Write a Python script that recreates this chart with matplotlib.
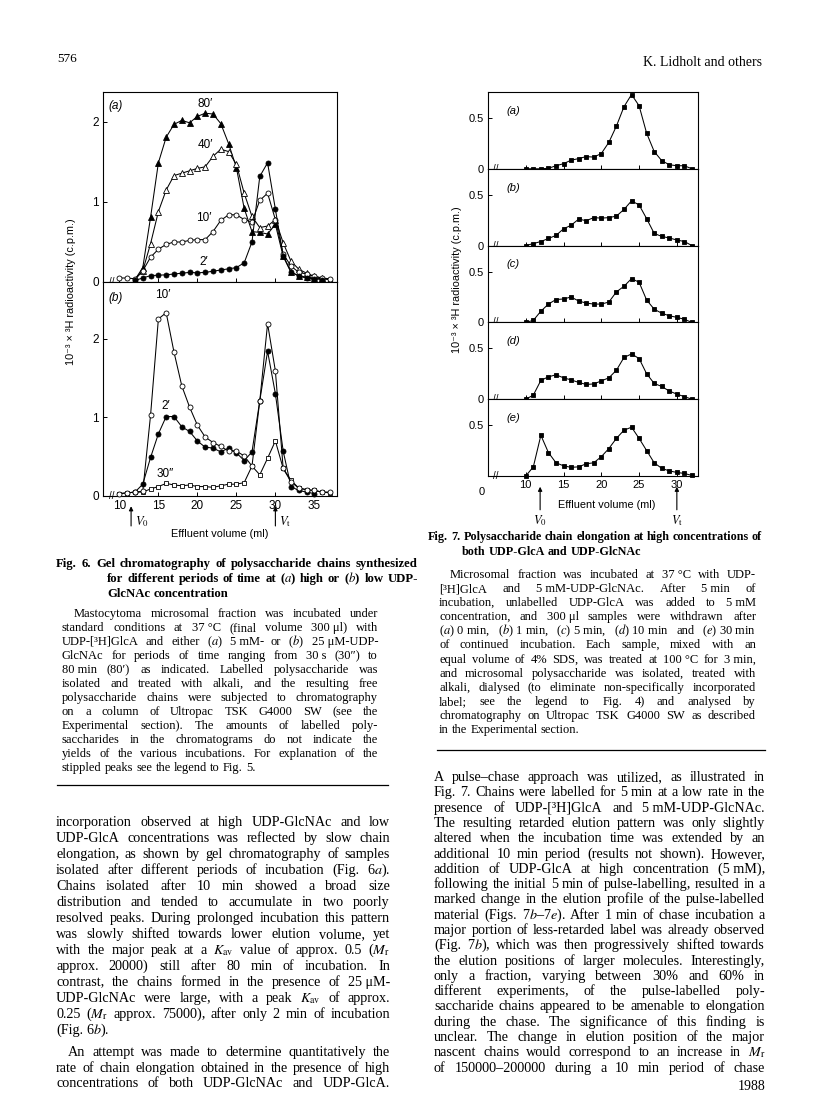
import matplotlib.pyplot as plt
from matplotlib.lines import Line2D

plt.rcParams['font.family'] = ['Liberation Sans', 'DejaVu Sans']
plt.rcParams['mathtext.fontset'] = 'stix'
SERIF = ['Liberation Serif', 'DejaVu Serif']

W, H = 816, 1097

# ---------------- Fig. 6 data (ml vs 10^-3 x 3H c.p.m.) ----------------
ml_a80 = list(range(12, 38))
a_80 = [0.03, 0.18, 0.81, 1.49, 1.81, 1.97, 2.02, 1.99, 2.07, 2.11, 2.10, 1.98, 1.73,
        1.43, 0.92, 0.63, 0.62, 0.60, 0.72, 0.32, 0.12, 0.08, 0.06, 0.05, 0.04, 0.03]
ml_a40 = list(range(12, 38))
a_40 = [0.03, 0.14, 0.48, 0.88, 1.15, 1.33, 1.36, 1.39, 1.42, 1.44, 1.57, 1.66, 1.63,
        1.47, 1.11, 0.82, 0.68, 0.70, 0.78, 0.49, 0.26, 0.16, 0.11, 0.07, 0.05, 0.03]
ml_a10 = list(range(10, 38))
a_10 = [0.05, 0.05, 0.04, 0.14, 0.31, 0.41, 0.47, 0.50, 0.50, 0.52, 0.53, 0.53, 0.63, 0.77,
        0.84, 0.84, 0.78, 0.75, 1.02, 1.11, 0.78, 0.35, 0.20, 0.12, 0.10, 0.07, 0.05, 0.04]
ml_a2 = list(range(12, 37))
a_2 = [0.02, 0.05, 0.08, 0.085, 0.09, 0.10, 0.11, 0.12, 0.115, 0.12, 0.135, 0.15, 0.165,
       0.18, 0.24, 0.50, 1.32, 1.49, 0.91, 0.33, 0.13, 0.07, 0.05, 0.04, 0.03]

ml_b10 = list(range(10, 38))
b_10 = [0.03, 0.04, 0.05, 0.06, 1.03, 2.25, 2.33, 1.83, 1.40, 1.13, 0.90, 0.75, 0.68, 0.63,
        0.57, 0.57, 0.51, 0.38, 1.21, 2.19, 1.59, 0.35, 0.18, 0.10, 0.08, 0.07, 0.05, 0.05]
ml_b2 = list(range(12, 36))
b_2 = [0.05, 0.15, 0.49, 0.79, 1.01, 1.01, 0.88, 0.82, 0.70, 0.62, 0.61, 0.56, 0.61, 0.55,
       0.45, 0.56, 1.21, 1.84, 1.30, 0.57, 0.12, 0.07, 0.05, 0.03]
ml_b30s = list(range(10, 38))
b_30s = [0.03, 0.04, 0.05, 0.05, 0.09, 0.12, 0.16, 0.14, 0.13, 0.14, 0.12, 0.12, 0.11, 0.13,
         0.15, 0.15, 0.17, 0.38, 0.27, 0.48, 0.70, 0.35, 0.20, 0.10, 0.08, 0.07, 0.05, 0.04]

V0_6, Vt_6 = 11.5, 30

# ---------------- Fig. 7 data ----------------
ml7 = list(range(10, 33))
f7 = {
    'a': [0, 0, 0, 0.005, 0.03, 0.05, 0.085, 0.10, 0.12, 0.115, 0.15, 0.26, 0.42, 0.61,
          0.73, 0.62, 0.35, 0.17, 0.08, 0.04, 0.03, 0.03, 0],
    'b': [0, 0.02, 0.04, 0.07, 0.10, 0.165, 0.20, 0.26, 0.245, 0.275, 0.27, 0.275, 0.29,
          0.355, 0.44, 0.40, 0.265, 0.12, 0.09, 0.075, 0.055, 0.04, 0],
    'c': [0, 0.02, 0.11, 0.18, 0.225, 0.23, 0.25, 0.21, 0.19, 0.18, 0.18, 0.20, 0.30,
          0.355, 0.43, 0.395, 0.22, 0.13, 0.09, 0.065, 0.05, 0.03, 0],
    'd': [0, 0.04, 0.185, 0.22, 0.24, 0.21, 0.19, 0.165, 0.145, 0.15, 0.18, 0.21, 0.285,
          0.41, 0.445, 0.40, 0.25, 0.155, 0.125, 0.08, 0.05, 0.025, 0],
    'e': [0, 0.09, 0.40, 0.23, 0.13, 0.10, 0.085, 0.09, 0.12, 0.13, 0.19, 0.27, 0.37,
          0.45, 0.48, 0.37, 0.25, 0.13, 0.075, 0.05, 0.035, 0.025, 0.005],
}
V0_7, Vt_7 = 11.9, 30

# ---------------- text ----------------
cap6_title = ["Fig. 6. Gel chromatography of polysaccharide chains synthesized",
              "for different periods of time at ($a$) high or ($b$) low UDP-",
              "GlcNAc concentration"]
cap6_body = ["Mastocytoma microsomal fraction was incubated under",
             "standard conditions at 37~°C (final volume 300~μl) with",
             "UDP-[³H]GlcA and either ($a$) 5~mM- or ($b$) 25~μM-UDP-",
             "GlcNAc for periods of time ranging from 30~s (30″) to",
             "80~min (80′) as indicated. Labelled polysaccharide was",
             "isolated and treated with alkali, and the resulting free",
             "polysaccharide chains were subjected to chromatography",
             "on a column of Ultropac TSK G4000 SW (see the",
             "Experimental section). The amounts of labelled poly-",
             "saccharides in the chromatograms do not indicate the",
             "yields of the various incubations. For explanation of the",
             "stippled peaks see the legend to Fig. 5."]
left_p1 = ["incorporation observed at high UDP-GlcNAc and low",
           "UDP-GlcA concentrations was reflected by slow chain",
           "elongation, as shown by gel chromatography of samples",
           "isolated after different periods of incubation (Fig. 6$a$).",
           "Chains isolated after 10 min showed a broad size",
           "distribution and tended to accumulate in two poorly",
           "resolved peaks. During prolonged incubation this pattern",
           "was slowly shifted towards lower elution volume, yet",
           "with the major peak at a $K_\\mathrm{av}$ value of approx. 0.5 ($M_\\mathrm{r}$",
           "approx. 20000) still after 80 min of incubation. In",
           "contrast, the chains formed in the presence of 25~μM-",
           "UDP-GlcNAc were large, with a peak $K_\\mathrm{av}$ of approx.",
           "0.25 ($M_\\mathrm{r}$ approx. 75000), after only 2 min of incubation",
           "(Fig. 6$b$)."]
left_p2 = ["An attempt was made to determine quantitatively the",
           "rate of chain elongation obtained in the presence of high",
           "concentrations of both UDP-GlcNAc and UDP-GlcA."]
cap7_title = ["Fig. 7. Polysaccharide chain elongation at high concentrations of",
              "both UDP-GlcA and UDP-GlcNAc"]
cap7_body = ["Microsomal fraction was incubated at 37~°C with UDP-",
             "[³H]GlcA and 5~mM-UDP-GlcNAc. After 5~min of",
             "incubation, unlabelled UDP-GlcA was added to 5~mM",
             "concentration, and 300~μl samples were withdrawn after",
             "($a$)~0~min, ($b$)~1~min, ($c$)~5~min, ($d$)~10~min and ($e$)~30~min",
             "of continued incubation. Each sample, mixed with an",
             "equal volume of 4% SDS, was treated at 100~°C for 3~min,",
             "and microsomal polysaccharide was isolated, treated with",
             "alkali, dialysed (to eliminate non-specifically incorporated",
             "label; see the legend to Fig. 4) and analysed by",
             "chromatography on Ultropac TSK G4000 SW as described",
             "in the Experimental section."]
right_p = ["A pulse–chase approach was utilized, as illustrated in",
           "Fig. 7. Chains were labelled for 5 min at a low rate in the",
           "presence of UDP-[³H]GlcA and 5~mM-UDP-GlcNAc.",
           "The resulting retarded elution pattern was only slightly",
           "altered when the incubation time was extended by an",
           "additional 10 min period (results not shown). However,",
           "addition of UDP-GlcA at high concentration (5~mM),",
           "following the initial 5 min of pulse-labelling, resulted in a",
           "marked change in the elution profile of the pulse-labelled",
           "material (Figs. 7$b$–7$e$). After 1 min of chase incubation a",
           "major portion of less-retarded label was already observed",
           "(Fig. 7$b$), which was then progressively shifted towards",
           "the elution positions of larger molecules. Interestingly,",
           "only a fraction, varying between 30% and 60% in",
           "different experiments, of the pulse-labelled poly-",
           "saccharide chains appeared to be amenable to elongation",
           "during the chase. The significance of this finding is",
           "unclear. The change in elution position of the major",
           "nascent chains would correspond to an increase in $M_\\mathrm{r}$",
           "of 150000–200000 during a 10 min period of chase"]

fig = plt.figure(figsize=(W / 100, H / 100), dpi=100)
rend = fig.canvas.get_renderer()


def box(l, t, r, b):
    return [l / W, 1 - b / H, (r - l) / W, (b - t) / H]


def measure(s, **kw):
    t = fig.text(0, 0, s, **kw)
    w = t.get_window_extent(renderer=rend).width
    t.remove()
    return w


def block(lines, x0, x1, y0, dy, size, weight='normal', indent=0, last=True,
          hang=0):
    kw = dict(fontsize=size, family=SERIF, weight=weight)
    space = measure('a a', **kw) - measure('aa', **kw)
    for i, line in enumerate(lines):
        words = [w.replace('~', ' ') for w in line.split()]
        ws = [measure(w, **kw) for w in words]
        left = x0 + (indent if i == 0 else hang)
        y = round(y0 + i * dy)  # whole pixels keep baselines even
        if (last and i == len(lines) - 1) or len(words) == 1:
            gap = space
        else:
            gap = max((x1 - left - sum(ws)) / (len(words) - 1), 0.5 * space)
        x = left
        for w, wd in zip(words, ws):
            fig.text(x / W, 1 - y / H, w, va='baseline', ha='left', **kw)
            x += wd + gap


def rule(x0, x1, y):
    fig.add_artist(Line2D([x0 / W, x1 / W], [1 - y / H, 1 - y / H], lw=0.9, color='k'))


def series(ax, x, y, marker, filled, ms=3.6):
    ax.plot(x, y, '-', color='k', lw=0.75, marker=marker, ms=ms,
            mfc='k' if filled else 'white', mec='k', mew=0.6, clip_on=False, zorder=3)


# ---------------- Fig. 6 ----------------
ax6a = fig.add_axes(box(103, 92, 337, 282))
ax6b = fig.add_axes(box(103, 282, 337, 496))
series(ax6a, ml_a80, a_80, '^', True, 4.2)
series(ax6a, ml_a40, a_40, '^', False, 4.2)
series(ax6a, ml_a10, a_10, 'o', False)
series(ax6a, ml_a2, a_2, 'o', True)
series(ax6b, ml_b30s, b_30s, 's', False, 3.2)
series(ax6b, ml_b2, b_2, 'o', True)
series(ax6b, ml_b10, b_10, 'o', False)

for ax, top in ((ax6a, 2.375), (ax6b, 2.72)):
    ax.set_xlim(7.9, 37.9)
    ax.set_ylim(0, top)
    ax.set_xticks([10, 15, 20, 25, 30, 35])
    ax.set_yticks([0, 1, 2])
    ax.tick_params(direction='in', length=3, width=0.7, labelsize=8.5, pad=3)
    for s in ax.spines.values():
        s.set_linewidth(0.8)
    ax.text(9.0, 0, '//', fontsize=7, ha='center', va='center')
ax6a.tick_params(labelbottom=False)

ax6a.text(9.5, 2.2, '(a)', fontstyle='italic', fontsize=8.5, ha='center', va='center')
ax6a.text(21.0, 2.22, '80′', fontsize=8.5, ha='center', va='center')
ax6a.text(21.0, 1.71, '40′', fontsize=8.5, ha='center', va='center')
ax6a.text(20.8, 0.80, '10′', fontsize=8.5, ha='center', va='center')
ax6a.text(20.8, 0.25, '2′', fontsize=8.5, ha='center', va='center')
ax6b.text(9.5, 2.52, '(b)', fontstyle='italic', fontsize=8.5, ha='center', va='center')
ax6b.text(15.6, 2.55, '10′', fontsize=8.5, ha='center', va='center')
ax6b.text(15.9, 1.15, '2′', fontsize=8.5, ha='center', va='center')
ax6b.text(15.9, 0.28, '30″', fontsize=8.5, ha='center', va='center')

arrow = dict(arrowstyle='-|>', lw=0.8, color='k', mutation_scale=6, shrinkA=0, shrinkB=0)
for v, lab in ((V0_6, '$V_0$'), (Vt_6, '$V_\\mathrm{t}$')):
    ax6b.annotate('', xy=(v, -0.048), xytext=(v, -0.14), xycoords=('data', 'axes fraction'),
                  arrowprops=arrow)
    ax6b.text(v + 0.5, -0.12, lab, transform=ax6b.get_xaxis_transform(), fontsize=9,
              ha='left', va='center')

fig.text(220 / W, 1 - 534 / H, 'Effluent volume (ml)', fontsize=7.8, ha='center', va='center')
fig.text(71 / W, 1 - 292 / H, '10⁻³ × ³H radioactivity (c.p.m.)', fontsize=7.8,
         rotation=90, ha='center', va='center')

# ---------------- Fig. 7 ----------------
ph = (476 - 92) / 5
for i, k in enumerate('abcde'):
    ax = fig.add_axes(box(488, 92 + i * ph, 698, 92 + (i + 1) * ph))
    series(ax, ml7, f7[k], 's', True, 2.6)
    ax.set_xlim(5.0, 32.8)
    ax.set_ylim(0, 0.755)
    ax.set_xticks([10, 15, 20, 25, 30])
    ax.set_yticks([0, 0.5])
    ax.set_yticklabels(['0' if k != 'e' else '', '0.5'])
    ax.tick_params(direction='in', length=3, width=0.7, labelsize=8, pad=3)
    for s in ax.spines.values():
        s.set_linewidth(0.8)
    if k != 'e':
        ax.tick_params(labelbottom=False)
    ax.text(6.0, 0, '//', fontsize=7, ha='center', va='center')
    ax.text(8.3, 0.57, '(%s)' % k, fontstyle='italic', fontsize=8, ha='center', va='center')
    if k == 'e':
        ax.text(-0.028, -0.145, '0', transform=ax.transAxes, fontsize=8, ha='center', va='top')
        for v, lab in ((V0_7, '$V_0$'), (Vt_7, '$V_\\mathrm{t}$')):
            ax.annotate('', xy=(v, -0.14), xytext=(v, -0.44),
                        xycoords=('data', 'axes fraction'), arrowprops=arrow)
            ax.text(v, -0.48, lab, transform=ax.get_xaxis_transform(), fontsize=9,
                    ha='center', va='top')

fig.text(607 / W, 1 - 505 / H, 'Effluent volume (ml)', fontsize=7.8, ha='center', va='center')
fig.text(457 / W, 1 - 280 / H, '10⁻³ × ³H radioactivity (c.p.m.)', fontsize=7.8,
         rotation=90, ha='center', va='center')

# ---------------- page text ----------------
fig.text(57 / W, 1 - 62 / H, '576', fontsize=9.5, family=SERIF, va='baseline')
fig.text(762 / W, 1 - 66 / H, 'K. Lidholt and others', fontsize=10, family=SERIF,
         ha='right', va='baseline')
fig.text(765 / W, 1 - 1090 / H, '1988', fontsize=10, family=SERIF, ha='right', va='baseline')

block(cap6_title, 56, 418, 567, 15, 9.2, weight='bold', hang=51)
block(cap6_body, 62, 378, 617, 14, 9.0, indent=12)
rule(57, 388, 785)
block(left_p1, 56, 390, 826, 16.0, 10.2)
block(left_p2, 56, 390, 1056, 15.6, 10.2, indent=12, last=False)

block(cap7_title, 428, 762, 540, 15, 8.7, weight='bold', hang=34)
block(cap7_body, 439, 756, 578, 14.1, 9.0, indent=11)
rule(437, 765, 750)
block(right_p, 434, 765, 781, 15.3, 10.2, last=False)

fig.savefig('out.png', dpi=100, facecolor='white')
